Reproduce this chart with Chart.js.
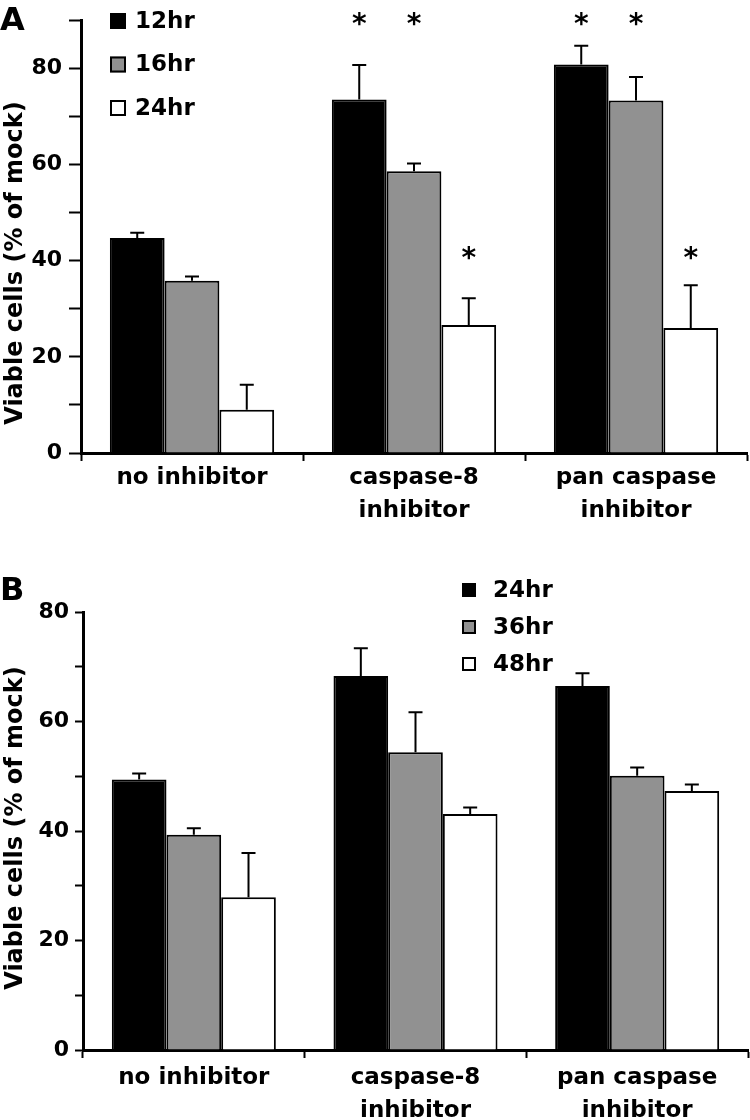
<!DOCTYPE html>
<html>
<head>
<meta charset="utf-8">
<script src="https://cdn.jsdelivr.net/npm/chart.js@4.4.0/dist/chart.umd.min.js"></script>
<style>
  body { margin: 0; background: #fff; }
  .panel { position: absolute; left: 0; width: 750px; }
</style>
</head>
<body>
<div class="panel" style="top:0;height:545px"><canvas id="chartA" width="750" height="545"></canvas></div>
<div class="panel" style="top:560px;height:560px"><canvas id="chartB" width="750" height="560"></canvas></div>
<script>
const categories = [['no inhibitor'], ['caspase-8', 'inhibitor'], ['pan caspase', 'inhibitor']];
const yTitle = 'Viable cells (% of mock)';

// Panel A
const seriesA = ['12hr', '16hr', '24hr'];
const a12 = [44.7, 73.5, 80.8];
const a12err = [1.1, 7.2, 3.9];
const a16 = [35.8, 58.6, 73.3];
const a16err = [0.9, 1.6, 4.9];
const a24 = [9.0, 26.6, 26.0];
const a24err = [5.2, 5.6, 8.9];
// where the significance stars sit (value), null = none
const a12stars = [null, 89.3, 89.3];
const a16stars = [null, 89.3, 89.3];
const a24stars = [null, 40.5, 40.5];

// Panel B
const seriesB = ['24hr', '36hr', '48hr'];
const b24 = [49.4, 68.3, 66.5];
const b24err = [1.1, 5.1, 2.3];
const b36 = [39.3, 54.4, 50.1];
const b36err = [1.2, 7.3, 1.5];
const b48 = [27.9, 43.1, 47.3];
const b48err = [8.1, 1.2, 1.2];

const fills = ['#000000', '#919191', '#ffffff'];
const FONT = 'DejaVu Sans';

function makeDatasets(names, vals, errs, stars) {
    return names.map((n, i) => ({
        label: n,
        data: vals[i],
        errors: errs[i],
        stars: stars ? stars[i] : null,
        backgroundColor: fills[i],
        borderColor: '#000',
        borderWidth: 2,
        categoryPercentage: 0.74,
        barPercentage: 1.0
    }));
}

// error bars, stars, legend, axis title and panel letter
const figPlugin = {
    id: 'fig',
    afterDatasetsDraw(chart, args, opts) {
        const ctx = chart.ctx;
        const ys = chart.scales.y;
        ctx.save();
        chart.data.datasets.forEach((ds, i) => {
            const meta = chart.getDatasetMeta(i);
            meta.data.forEach((bar, j) => {
                const top = ys.getPixelForValue(ds.data[j] + ds.errors[j]);
                ctx.strokeStyle = '#000';
                ctx.lineWidth = 2;
                ctx.beginPath();
                ctx.moveTo(bar.x, bar.y);
                ctx.lineTo(bar.x, top);
                ctx.moveTo(bar.x - opts.cap, top);
                ctx.lineTo(bar.x + opts.cap, top);
                ctx.stroke();
                if (ds.stars && ds.stars[j] != null) {
                    ctx.fillStyle = '#000';
                    ctx.font = 'bold 28px ' + FONT;
                    ctx.textAlign = 'center';
                    ctx.textBaseline = 'alphabetic';
                    ctx.fillText('*', bar.x, ys.getPixelForValue(ds.stars[j]) + 9);
                }
            });
        });
        ctx.restore();
    },
    afterDraw(chart, args, opts) {
        const ctx = chart.ctx;
        ctx.save();
        ctx.fillStyle = '#000';

        // panel letter
        ctx.font = 'bold 32px ' + FONT;
        ctx.textAlign = 'left';
        ctx.textBaseline = 'alphabetic';
        ctx.fillText(opts.letter, 0, opts.letterY);

        // y title
        ctx.font = 'bold 24px ' + FONT;
        ctx.textAlign = 'center';
        ctx.textBaseline = 'middle';
        ctx.translate(opts.titleX, opts.titleY);
        ctx.rotate(-Math.PI / 2);
        ctx.fillText(yTitle, 0, 0);
        ctx.setTransform(1, 0, 0, 1, 0, 0);

        // legend
        const lg = opts.legend;
        ctx.font = 'bold 23px ' + FONT;
        ctx.textAlign = 'left';
        chart.data.datasets.forEach((ds, i) => {
            const cy = lg.y + i * lg.gap;
            ctx.fillStyle = ds.backgroundColor;
            ctx.fillRect(lg.x, cy - lg.box / 2, lg.box, lg.box);
            ctx.strokeStyle = '#000';
            ctx.lineWidth = 2;
            ctx.strokeRect(lg.x + 1, cy - lg.box / 2 + 1, lg.box - 2, lg.box - 2);
            ctx.fillStyle = '#000';
            ctx.fillText(ds.label, lg.textX, cy + 1);
        });
        ctx.restore();
    }
};

function makeChart(id, datasets, cfg) {
    return new Chart(document.getElementById(id), {
        type: 'bar',
        data: { labels: categories, datasets: datasets },
        plugins: [figPlugin],
        options: {
            responsive: false,
            animation: false,
            layout: { padding: { top: cfg.padTop, right: cfg.padRight, left: 0, bottom: 0 } },
            plugins: {
                legend: { display: false },
                tooltip: { enabled: false },
                fig: cfg.fig
            },
            scales: {
                x: {
                    afterFit: s => { s.height = cfg.xHeight; },
                    grid: {
                        offset: true,
                        drawOnChartArea: false,
                        tickLength: 8,
                        tickWidth: 2,
                        color: '#000'
                    },
                    border: { display: true, color: '#000', width: 3 },
                    ticks: {
                        color: '#000',
                        maxRotation: 0,
                        autoSkip: false,
                        padding: cfg.xPad,
                        font: { family: FONT, weight: 'bold', size: 23, lineHeight: 1.42 }
                    }
                },
                y: {
                    min: 0,
                    max: cfg.yMax,
                    afterFit: s => { s.width = cfg.yWidth; },
                    grid: {
                        drawOnChartArea: false,
                        tickLength: cfg.yTick,
                        tickWidth: 2,
                        color: '#000'
                    },
                    border: { display: true, color: '#000', width: 3 },
                    ticks: {
                        stepSize: 10,
                        color: '#000',
                        padding: cfg.yPad,
                        font: { family: FONT, weight: 'bold', size: 22 },
                        callback: v => (v % 20 === 0 ? v : '')
                    }
                }
            }
        }
    });
}

makeChart('chartA',
    makeDatasets(seriesA, [a12, a16, a24], [a12err, a16err, a24err], [a12stars, a16stars, a24stars]),
    {
        padTop: 15, padRight: 3, xHeight: 92, yWidth: 81, yMax: 90,
        yTick: 12, yPad: 7, xPad: 1,
        fig: {
            cap: 7, letter: 'A', letterY: 30, titleX: 16, titleY: 263,
            legend: { x: 110, y: 21, gap: 43.5, box: 16, textX: 135 }
        }
    });

makeChart('chartB',
    makeDatasets(seriesB, [b24, b36, b48], [b24err, b36err, b48err], null),
    {
        padTop: 52, padRight: 2, xHeight: 70, yWidth: 83, yMax: 80,
        yTick: 8, yPad: 6, xPad: 4,
        fig: {
            cap: 7, letter: 'B', letterY: 40, titleX: 16, titleY: 268,
            legend: { x: 462, y: 30, gap: 37, box: 14, textX: 493 }
        }
    });
</script>
</body>
</html>
